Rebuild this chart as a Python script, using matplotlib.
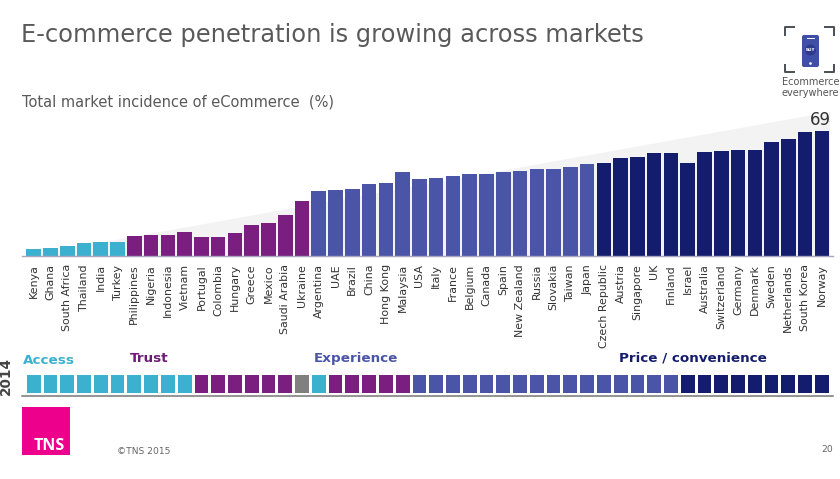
import matplotlib
matplotlib.use("Agg")
import matplotlib.pyplot as plt
from matplotlib.patches import Rectangle, FancyBboxPatch, Circle

countries = ["Kenya","Ghana","South Africa","Thailand","India","Turkey","Philippines","Nigeria","Indonesia","Vietnam",
             "Portugal","Colombia","Hungary","Greece","Mexico","Saudi Arabia","Ukraine","Argentina","UAE","Brazil",
             "China","Hong Kong","Malaysia","USA","Italy","France","Belgium","Canada","Spain","New Zealand","Russia",
             "Slovakia","Taiwan","Japan","Czech Republic","Austria","Singapore","UK","Finland","Israel","Australia",
             "Switzerland","Germany","Denmark","Sweden","Netherlands","South Korea","Norway"]
values = [3.9,4.4,5.9,7.5,8.1,8.1,11,11.6,11.7,13.4,10.5,10.5,12.7,17.1,18.5,22.6,30.7,36,36.3,36.9,39.6,40.4,46.6,42.8,
          43.1,44.2,45.3,45.5,46.3,47.2,48.1,48.3,49.4,50.7,51.2,54.1,54.7,56.7,56.7,51.6,57.5,58,58.4,58.6,63.1,64.6,68.3,69]
segment_2015 = ["A"]*6 + ["T"]*11 + ["E"]*17 + ["P"]*14
segment_2014 = ["A"]*10 + ["T"]*6 + ["N"] + ["A"] + ["T"]*5 + ["E"]*16 + ["P"]*9
seg_colors = {"A":"#3CB1CF","T":"#7A1F7F","E":"#4A55A8","P":"#141C6E","N":"#808080"}
seg_labels = [("Access",23,"A",360),("Trust",130,"T",358.5),("Experience",314,"E",358.5),("Price / convenience",619,"P",358)]
W,H = 840,479
fig = plt.figure(figsize=(8.4,4.79),dpi=100,facecolor="white")
plt.rcParams['font.family']=['DejaVu Sans']
def axpx(x0,y0,x1,y1,**k):
    return fig.add_axes([x0/W,1-y1/H,(x1-x0)/W,(y1-y0)/H],**k)
sp=16.77; c0=33.7
x2d=lambda p:(p-c0)/sp
xlim=(x2d(22),x2d(833))
# main chart
ax=axpx(22,111.3,833,256.3)
ax.set_xlim(*xlim); ax.set_ylim(0,145/1.816)
ax.fill([x2d(26),x2d(830),x2d(830)],[0,0,79.3],color="#F3F3F3",lw=0,zorder=0)
xs=list(range(len(values)))
ax.bar(xs,values,width=0.87,color=[seg_colors[s] for s in segment_2015],zorder=2)
ax.set_xticks(xs); ax.set_xticklabels(countries,rotation=90,fontsize=7.9,color="#333333",va="top")
ax.tick_params(axis="x",length=0,pad=5.5)
ax.set_yticks([])
for s in ["top","left","right"]: ax.spines[s].set_visible(False)
ax.spines["bottom"].set_color("#A8A8B8"); ax.spines["bottom"].set_linewidth(1)
ax.patch.set_alpha(0)
ax.text(xs[-1]-0.1,values[-1]+1,str(values[-1]),ha="center",va="bottom",fontsize=12,color="#333333",zorder=3)
# 2014 row
ax2=axpx(22,374.7,833,393.3)
ax2.set_xlim(*xlim); ax2.set_ylim(0,1)
ax2.bar(xs,[1]*len(xs),width=0.82,color=[seg_colors[s] for s in segment_2014])
ax2.axis("off")
# decor
o=fig.add_axes([0,0,1,1],zorder=5); o.set_xlim(0,W); o.set_ylim(H,0); o.axis("off"); o.patch.set_alpha(0)
o.plot([22,833],[395.7,395.7],color="#777777",lw=1.1)
o.text(21,35,"E-commerce penetration is growing across markets",fontsize=17.35,color="#595959",va="center")
o.text(22,102,"Total market incidence of eCommerce  (%)",fontsize=10.5,color="#595959",va="center")
for t,x,k,y in seg_labels:
    o.text(x,y,t,fontsize=9.7,fontweight="bold",color={"A":"#3CB1CF","T":"#6F1A78","E":"#4A55A8","P":"#141C6E"}[k],va="center")
o.text(6,376,"2014",rotation=90,fontsize=9.8,fontweight="bold",color="#444444",ha="center",va="center")
o.add_patch(Rectangle((21.5,407),48,48,color="#EC008C",lw=0))
o.text(49.5,446,"TNS",color="white",fontsize=11.5,family="Open Sans",fontweight="bold",ha="center",va="center")
o.text(117,451,"©TNS 2015",fontsize=6.6,color="#666666",va="center")
o.text(833,450,"20",fontsize=6.6,color="#666666",va="center",ha="right")
# icon
ic="#4A4F55"
for xx,yy in [([785,785,795],[36,27,27]),([824,834,834],[27,27,36]),([785,785,795],[64,72,72]),([824,834,834],[72,72,64])]:
    o.plot(xx,yy,color=ic,lw=1.4,solid_capstyle="butt")
o.add_patch(FancyBboxPatch((802,35),17,32,boxstyle="round,pad=0,rounding_size=2",color="#3F4FA8",lw=0))
o.add_patch(Circle((810.5,50),5.5,color="#2E3A8C",lw=0))
o.text(810.5,50,"BUY",fontsize=3,color="white",ha="center",va="center",fontweight="bold")
o.add_patch(Circle((810.5,63.5),1.3,color="white",lw=0))
o.plot([807,814],[38,38],color="white",lw=0.7)
o.text(810.5,82,"Ecommerce",fontsize=7,color="#555555",ha="center",va="center")
o.text(810.5,93,"everywhere",fontsize=7,color="#555555",ha="center",va="center")
fig.savefig("out.png",dpi=100)
